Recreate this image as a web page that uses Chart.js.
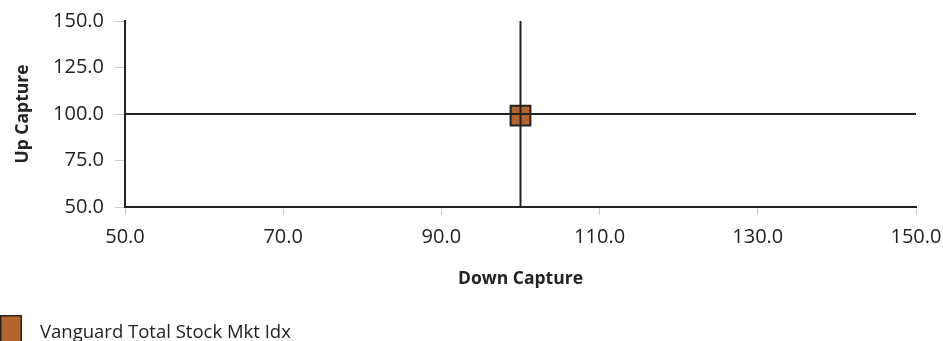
<!DOCTYPE html>
<html>
<head>
<meta charset="utf-8">
<script src="https://cdn.jsdelivr.net/npm/chart.js@4/dist/chart.umd.min.js"></script>
<style>
  html, body { margin: 0; padding: 0; background: #fff; overflow: hidden; }
  canvas { display: block; }
</style>
</head>
<body>
<canvas id="c" width="943" height="341"></canvas>
<script>
// ---- data ----
const seriesLabel = "Vanguard Total Stock Mkt Idx";
const downCapture = [100.0];
const upCapture = [99.1];
const xRange = [50, 150];
const yRange = [50, 150];
const xStep = 20;
const yStep = 25;
const refX = 100;   // vertical reference line (Down Capture = 100)
const refY = 100;   // horizontal reference line (Up Capture = 100)

const FONT = "'Open Sans', sans-serif";
const TEXT = '#222';
const FILL = '#b5652b';
const EDGE = '#222';

const scatterData = downCapture.map((x, i) => ({ x: x, y: upCapture[i] }));
const hLine = [{ x: xRange[0], y: refY }, { x: xRange[1], y: refY }];
const vLine = [{ x: refX, y: yRange[0] }, { x: refX, y: yRange[1] }];

// simple legend drawn below the axis (swatch + series name)
const bottomLegend = {
  id: 'bottomLegend',
  afterDraw(chart) {
    const ctx = chart.ctx;
    const ds = chart.data.datasets[0];
    ctx.save();
    ctx.fillStyle = ds.backgroundColor;
    ctx.fillRect(0, 315, 22, 27);
    ctx.strokeStyle = ds.borderColor;
    ctx.lineWidth = 1.5;
    ctx.strokeRect(0.75, 315.75, 20.5, 26);
    ctx.fillStyle = TEXT;
    ctx.font = "18.5px 'Open Sans', sans-serif";
    ctx.textBaseline = 'middle';
    ctx.textAlign = 'left';
    ctx.fillText(ds.label, 40, 333);
    ctx.restore();
  }
};

new Chart(document.getElementById('c'), {
  type: 'scatter',
  data: {
    datasets: [
      {
        label: seriesLabel,
        data: scatterData,
        backgroundColor: FILL,
        borderColor: EDGE,
        borderWidth: 2,
        pointStyle: 'rect',
        pointRadius: 14,
        pointHoverRadius: 14,
        order: 2
      },
      {
        type: 'line',
        label: 'hline',
        data: hLine,
        borderColor: EDGE,
        borderWidth: 2,
        pointRadius: 0,
        fill: false,
        order: 1
      },
      {
        type: 'line',
        label: 'vline',
        data: vLine,
        borderColor: EDGE,
        borderWidth: 2,
        pointRadius: 0,
        fill: false,
        order: 1
      }
    ]
  },
  plugins: [bottomLegend],
  options: {
    responsive: false,
    animation: false,
    devicePixelRatio: 1,
    layout: { padding: { top: 21, right: 27, left: 0, bottom: 0 } },
    plugins: {
      tooltip: { enabled: false },
      legend: { display: false }
    },
    scales: {
      x: {
        type: 'linear',
        min: xRange[0],
        max: xRange[1],
        afterFit: (s) => { s.height = 134; s.paddingLeft = 0; s.paddingRight = 0; },
        ticks: {
          stepSize: xStep,
          padding: 10,
          color: TEXT,
          font: { family: FONT, size: 20 },
          callback: (v) => Number(v).toFixed(1)
        },
        grid: { drawOnChartArea: false, drawTicks: true, tickLength: 8, color: '#cccccc' },
        border: { display: true, color: EDGE, width: 2 },
        title: {
          display: true,
          text: 'Down Capture',
          color: TEXT,
          font: { family: FONT, size: 17.5, weight: 'bold' },
          padding: { top: 0, bottom: 51 }
        }
      },
      y: {
        type: 'linear',
        min: yRange[0],
        max: yRange[1],
        afterFit: (s) => { s.width = 125; s.paddingTop = 0; s.paddingBottom = 0; },
        ticks: {
          stepSize: yStep,
          padding: 11,
          color: TEXT,
          font: { family: FONT, size: 20 },
          callback: (v) => Number(v).toFixed(1)
        },
        grid: { drawOnChartArea: false, drawTicks: true, tickLength: 10, color: '#cccccc' },
        border: { display: true, color: EDGE, width: 2 },
        title: {
          display: true,
          text: 'Up Capture',
          color: TEXT,
          font: { family: FONT, size: 17.5, weight: 'bold' },
          padding: { top: 13, bottom: 0 }
        }
      }
    }
  }
});
</script>
</body>
</html>
